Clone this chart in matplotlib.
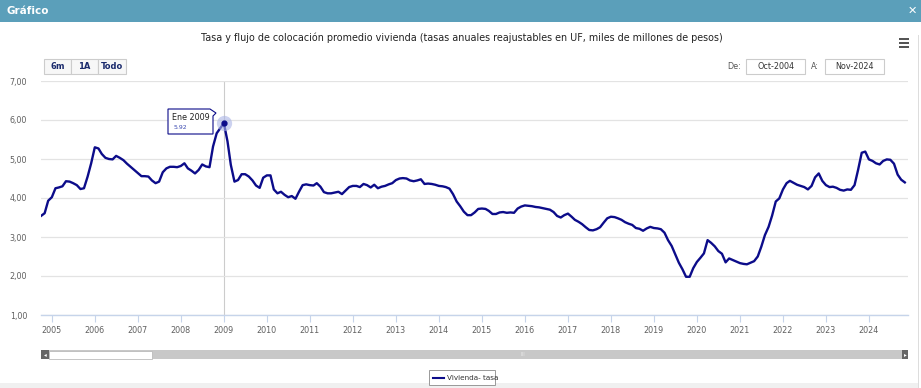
import matplotlib
matplotlib.use("Agg")
import matplotlib.pyplot as plt
from matplotlib.patches import Rectangle, Polygon
import pandas as pd

# tasa vivienda, mensual oct-2004 .. nov-2024
tasa = [
    3.54, 3.61, 3.93, 4.02, 4.25, 4.27, 4.30, 4.43, 4.42, 4.38, 4.33, 4.23,
    4.25, 4.55, 4.89, 5.30, 5.27, 5.13, 5.03, 5.00, 4.99, 5.08, 5.03, 4.97,
    4.88, 4.80, 4.72, 4.64, 4.56, 4.56, 4.55, 4.45, 4.38, 4.42, 4.66, 4.76,
    4.80, 4.80, 4.79, 4.82, 4.89, 4.76, 4.70, 4.63, 4.72, 4.86, 4.81, 4.79,
    5.32, 5.66, 5.79, 5.92, 5.45, 4.85, 4.42, 4.46, 4.61, 4.61, 4.55, 4.45,
    4.32, 4.26, 4.52, 4.58, 4.58, 4.22, 4.12, 4.16, 4.08, 4.02, 4.05, 3.98,
    4.16, 4.33, 4.35, 4.33, 4.32, 4.38, 4.29, 4.15, 4.12, 4.12, 4.14, 4.16,
    4.10, 4.19, 4.28, 4.31, 4.31, 4.28, 4.36, 4.33, 4.27, 4.34, 4.25, 4.29,
    4.31, 4.35, 4.38, 4.46, 4.50, 4.51, 4.50, 4.45, 4.43, 4.45, 4.48, 4.36,
    4.37, 4.36, 4.34, 4.31, 4.30, 4.28, 4.24, 4.10, 3.91, 3.79, 3.65, 3.56,
    3.56, 3.63, 3.72, 3.73, 3.72, 3.67, 3.59, 3.59, 3.63, 3.64, 3.62, 3.63,
    3.62, 3.73, 3.78, 3.81, 3.80, 3.79, 3.77, 3.76, 3.74, 3.72, 3.70, 3.64,
    3.54, 3.50, 3.56, 3.60, 3.52, 3.44, 3.39, 3.33, 3.25, 3.18, 3.17, 3.20,
    3.25, 3.37, 3.48, 3.52, 3.51, 3.48, 3.44, 3.38, 3.34, 3.31, 3.23, 3.21,
    3.16, 3.22, 3.26, 3.23, 3.22, 3.20, 3.11, 2.92, 2.77, 2.56, 2.34, 2.17,
    1.98, 1.98, 2.20, 2.36, 2.47, 2.58, 2.92, 2.85, 2.76, 2.64, 2.57, 2.35,
    2.45, 2.41, 2.37, 2.33, 2.31, 2.30, 2.34, 2.38, 2.50, 2.75, 3.05, 3.26,
    3.55, 3.91, 3.99, 4.22, 4.38, 4.44, 4.39, 4.34, 4.31, 4.28, 4.22, 4.31,
    4.53, 4.63, 4.44, 4.33, 4.28, 4.29, 4.26, 4.21, 4.19, 4.22, 4.21, 4.33,
    4.72, 5.16, 5.19, 4.99, 4.95, 4.89, 4.86, 4.95, 4.99, 4.98, 4.88, 4.60,
    4.47, 4.40,
]
fechas = pd.date_range("2004-10-01", periods=len(tasa), freq="MS")

y_ticks = [1, 2, 3, 4, 5, 6, 7]
anios = list(range(2005, 2025))
titulo = ("Tasa y flujo de colocación promedio vivienda (tasas anuales "
          "reajustables en UF, miles de millones de pesos)")
botones = ["6m", "1A", "Todo"]
desde, hasta = "Oct-2004", "Nov-2024"
punto_tooltip = "2009-01-01"
serie = "Vivienda- tasa"

W, H = 921, 388
navy = "#0c0c8a"

fig = plt.figure(figsize=(W / 100, H / 100), dpi=100)
fig.patch.set_facecolor("white")


def px(x, y):
    return x / W, 1 - y / H


def prect(x0, y0, x1, y1, **kw):
    r = Rectangle(px(x0, y1), (x1 - x0) / W, (y1 - y0) / H,
                  transform=fig.transFigure, **kw)
    fig.add_artist(r)
    return r


# encabezado
prect(0, 0, W, 22, facecolor="#5b9fba", edgecolor="none")
fig.text(*px(6, 11), "Gráfico", color="white", fontsize=7.5, fontweight="bold",
         va="center", ha="left")
fig.text(*px(912, 11), "✕", color="white", fontsize=8, fontweight="bold",
         va="center", ha="center")
prect(918, 35, 919, 388, facecolor="#dddddd", edgecolor="none")
prect(0, 383, 918, 388, facecolor="#f0f0f0", edgecolor="none")

fig.text(*px(462, 38), titulo, fontsize=6.9, color="#222222",
         ha="center", va="center")
for i in range(3):
    prect(899, 38 + i * 4, 909, 39.5 + i * 4, facecolor="#555555", edgecolor="none")

# botones de rango
bx = [44, 71, 98, 126]
for i, b in enumerate(botones):
    prect(bx[i], 59, bx[i + 1], 74, facecolor="#f7f7f7", edgecolor="#cccccc", lw=0.8)
    fig.text(*px((bx[i] + bx[i + 1]) / 2, 66.5), b, fontsize=6, color="#1a2a6c",
             fontweight="bold", ha="center", va="center")

fig.text(*px(741, 66.5), "De:", fontsize=5.8, color="#555555", ha="right", va="center")
prect(746, 59, 805, 74, facecolor="white", edgecolor="#cccccc", lw=0.8)
fig.text(*px(775.5, 66.5), desde, fontsize=5.8, color="#333333", ha="center", va="center")
fig.text(*px(819, 66.5), "A:", fontsize=5.8, color="#555555", ha="right", va="center")
prect(825, 59, 884, 74, facecolor="white", edgecolor="#cccccc", lw=0.8)
fig.text(*px(854.5, 66.5), hasta, fontsize=5.8, color="#333333", ha="center", va="center")

# area de grafico
x0, x1, ytop, ybot = 41, 908, 81, 315
ax = fig.add_axes([x0 / W, 1 - ybot / H, (x1 - x0) / W, (ybot - ytop) / H])
ax.plot(fechas, tasa, color=navy, lw=1.7, zorder=3, solid_joinstyle="round")
ax.set_ylim(1, 7)
ax.set_xlim(pd.Timestamp("2004-10-01"), pd.Timestamp("2024-11-28"))
ax.set_yticks(y_ticks)
ax.set_yticklabels([f"{v:.2f}".replace(".", ",") for v in y_ticks])
ax.set_xticks([pd.Timestamp(f"{a}-01-01") for a in anios])
ax.set_xticklabels([str(a) for a in anios])
ax.grid(axis="y", color="#e3e3e3", lw=0.9)
for s in ["top", "right", "left"]:
    ax.spines[s].set_visible(False)
ax.spines["bottom"].set_color("#c6d4ea")
ax.spines["bottom"].set_linewidth(1)
ax.tick_params(axis="y", length=0, labelsize=5.8, labelcolor="#606060", pad=10)
ax.tick_params(axis="x", length=5, color="#c6d4ea", labelsize=5.8,
               labelcolor="#606060", pad=3)
ax.set_facecolor("none")

# cruz y tooltip
tp = pd.Timestamp(punto_tooltip)
vp = tasa[list(fechas).index(tp)]
ax.axvline(tp, color="#cccccc", lw=0.8, zorder=1)
ax.plot([tp], [vp], "o", ms=11, color="#aab4e6", alpha=0.6, mec="none", zorder=4)
ax.plot([tp], [vp], "o", ms=3.5, color=navy, zorder=5)

contorno = [px(168, 109), px(210, 109), px(216, 113), px(213, 116),
            px(213, 134), px(168, 134)]
fig.add_artist(Polygon(contorno, closed=True, transform=fig.transFigure,
                       facecolor="white", edgecolor=navy, lw=0.8, zorder=10))
fig.text(*px(172, 118), "Ene 2009", fontsize=5.8, color="#222222", ha="left",
         va="center", zorder=13)
fig.text(*px(174, 127.5), f"{vp:.2f}", fontsize=4.4, color="#3a48b0", ha="left",
         va="center", zorder=13)

# barra de desplazamiento
prect(41, 350, 908, 359, facecolor="#c8c8c8", edgecolor="none")
prect(49, 350.5, 152, 358.5, facecolor="white", edgecolor="#bbbbbb", lw=0.6)
prect(41, 350, 49, 359, facecolor="#666666", edgecolor="none")
prect(902, 350, 908, 359, facecolor="#666666", edgecolor="none")
fig.text(*px(45, 354.5), "◂", fontsize=4, color="white", ha="center", va="center")
fig.text(*px(905, 354.5), "▸", fontsize=4, color="white", ha="center", va="center")
fig.text(*px(523, 354.5), "III", fontsize=4, color="#e6e6e6", ha="center", va="center")

# leyenda
prect(429, 370, 495, 385, facecolor="white", edgecolor="#999999", lw=0.7)
fig.add_artist(plt.Line2D([433 / W, 444 / W], [1 - 378 / H] * 2, color=navy, lw=1.5,
                          transform=fig.transFigure))
fig.text(*px(447, 378), serie, fontsize=5.2, color="#333333", ha="left", va="center")

fig.savefig("out.png", dpi=100)
